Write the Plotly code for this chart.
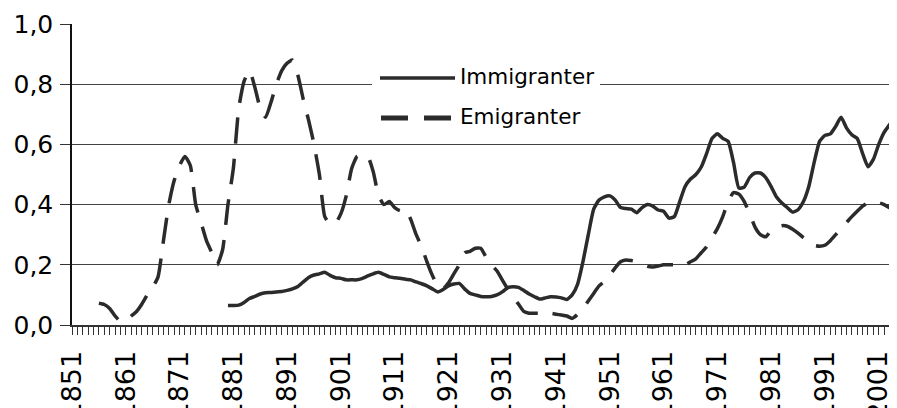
import plotly.graph_objects as go

# Immigranter, 1880-2004
immigranter_start = 1880
immigranter = [
    0.065, 0.065, 0.066, 0.075, 0.088, 0.095, 0.103, 0.107, 0.108, 0.110,
    0.111, 0.115, 0.120, 0.128, 0.143, 0.158, 0.166, 0.170, 0.175, 0.165,
    0.157, 0.155, 0.150, 0.150, 0.150, 0.155, 0.163, 0.170, 0.175, 0.168,
    0.160, 0.157, 0.155, 0.152, 0.150, 0.143, 0.137, 0.130, 0.120, 0.110,
    0.118, 0.130, 0.136, 0.138, 0.120, 0.105, 0.100, 0.095, 0.094, 0.095,
    0.100, 0.110, 0.124, 0.127, 0.125, 0.115, 0.103, 0.094, 0.086, 0.090,
    0.094, 0.093, 0.090, 0.085, 0.100, 0.135, 0.210, 0.300, 0.385, 0.415,
    0.426, 0.429, 0.415, 0.390, 0.387, 0.385, 0.373, 0.390, 0.400, 0.395,
    0.382, 0.378, 0.355, 0.360, 0.410, 0.460, 0.485, 0.500, 0.525, 0.570,
    0.620, 0.635, 0.620, 0.610, 0.540, 0.455, 0.458, 0.490, 0.505, 0.505,
    0.490, 0.460, 0.425, 0.405, 0.390, 0.375, 0.383, 0.410, 0.460, 0.540,
    0.610, 0.630, 0.635, 0.660, 0.690, 0.655, 0.632, 0.620, 0.570, 0.526,
    0.550, 0.600, 0.640, 0.665, 0.692,
]

# Emigranter, 1856-2004
emigranter_start = 1856
emigranter = [
    0.072, 0.068, 0.055, 0.030, 0.012, 0.015, 0.030, 0.045, 0.070, 0.100,
    0.125, 0.160, 0.280, 0.400, 0.480, 0.530, 0.560, 0.530, 0.400, 0.340,
    0.280, 0.240, 0.200, 0.250, 0.400, 0.520, 0.720, 0.810, 0.845, 0.790,
    0.720, 0.690, 0.740, 0.800, 0.845, 0.870, 0.880, 0.830, 0.750, 0.680,
    0.600, 0.500, 0.360, 0.335, 0.338, 0.370, 0.430, 0.520, 0.560, 0.565,
    0.560, 0.510, 0.430, 0.400, 0.410, 0.390, 0.380, 0.385, 0.350, 0.300,
    0.260, 0.210, 0.165, 0.130, 0.120, 0.140, 0.170, 0.200, 0.240, 0.245,
    0.255, 0.255, 0.225, 0.200, 0.180, 0.150, 0.120, 0.095, 0.070, 0.045,
    0.039, 0.039, 0.039, 0.039, 0.039, 0.036, 0.033, 0.030, 0.022, 0.035,
    0.055, 0.080, 0.105, 0.130, 0.145, 0.165, 0.190, 0.210, 0.216, 0.214,
    0.210, 0.202, 0.195, 0.193, 0.196, 0.200, 0.200, 0.200, 0.200, 0.200,
    0.210, 0.220, 0.240, 0.260, 0.290, 0.320, 0.360, 0.410, 0.440, 0.435,
    0.410, 0.370, 0.325, 0.300, 0.293, 0.315, 0.325, 0.330, 0.328, 0.318,
    0.305, 0.290, 0.277, 0.265, 0.262, 0.265, 0.280, 0.300, 0.320, 0.340,
    0.360, 0.378, 0.395, 0.406, 0.406, 0.406, 0.400, 0.390, 0.380,
]

y_ticks = [0.0, 0.2, 0.4, 0.6, 0.8, 1.0]

FONT = "DejaVu Sans, Arial, sans-serif"
LINE = "#2b2b2b"

imm_years = list(range(immigranter_start, immigranter_start + len(immigranter)))
emi_years = list(range(emigranter_start, emigranter_start + len(emigranter)))

fig = go.Figure()
fig.add_trace(go.Scatter(
    x=imm_years, y=immigranter, name="Immigranter", mode="lines",
    line=dict(color=LINE, width=3.5, shape="spline", smoothing=0.5),
))
fig.add_trace(go.Scatter(
    x=emi_years, y=emigranter, name="Emigranter", mode="lines",
    line=dict(color=LINE, width=3.5, dash="26px,15px", shape="spline", smoothing=0.5),
))

fig.update_xaxes(
    range=[1851, 2004.4], tickmode="linear", tick0=1851, dtick=10,
    ticks="outside", ticklen=8, tickwidth=1, tickcolor="#333",
    minor=dict(tick0=1851, dtick=1, ticks="outside", ticklen=8, tickcolor="#333", showgrid=False),
    tickangle=-90, ticklabelstandoff=5,
    showline=True, linecolor="#333", linewidth=2, showgrid=False, zeroline=False,
    tickfont=dict(family=FONT, size=27, color="#000"),
)
fig.update_yaxes(
    range=[0, 1.0], tickvals=y_ticks, tickformat=".1f",
    ticks="outside", ticklen=10, tickcolor="#333",
    showline=True, linecolor="#111", linewidth=1.5,
    showgrid=True, gridcolor="#444", gridwidth=1, zeroline=False,
    tickfont=dict(family=FONT, size=25, color="#000"), ticklabelstandoff=2,
)

# legend drawn by hand: long line samples like the original
# (page pixel positions; the page body adds an 8px offset)
def px_x(p):
    return (p - 72) / 825

def px_y(p):
    return (325 - p) / 301

fig.add_shape(type="rect", xref="paper", yref="paper",
              x0=px_x(372), x1=px_x(600), y0=px_y(135), y1=px_y(55),
              fillcolor="white", line_width=0, layer="above")
fig.add_shape(type="line", xref="paper", yref="paper",
              x0=px_x(380), x1=px_x(455), y0=px_y(78), y1=px_y(78),
              line=dict(color=LINE, width=3.5), layer="above")
fig.add_shape(type="line", xref="paper", yref="paper",
              x0=px_x(381), x1=px_x(452), y0=px_y(118), y1=px_y(118),
              line=dict(color=LINE, width=5, dash="27px,16px"), layer="above")
for label, yp in [("Immigranter", 76), ("Emigranter", 116)]:
    fig.add_annotation(text=label, xref="paper", yref="paper",
                       x=px_x(458), y=px_y(yp), xanchor="left", yanchor="middle",
                       showarrow=False, font=dict(family=FONT, size=21.5, color="#000"))

fig.update_layout(
    width=889, height=400,
    margin=dict(l=64, r=0, t=16, b=83, autoexpand=False),
    plot_bgcolor="white", paper_bgcolor="white",
    separators=", ", showlegend=False,
)

fig.write_html("out.html")
